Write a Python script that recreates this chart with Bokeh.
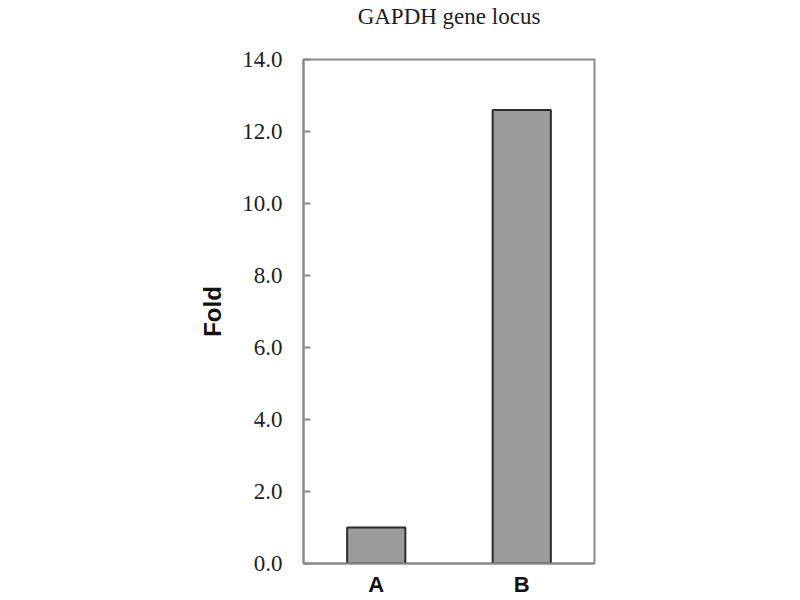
from bokeh.plotting import figure
from bokeh.models import (FixedTicker, NumeralTickFormatter, Range1d,
                          FactorRange, CategoricalAxis)
from bokeh.embed import file_html
from bokeh.resources import INLINE

# Fold enrichment at the GAPDH gene locus
categories = ["A", "B"]
fold_values = [1.0, 12.6]
y_ticks = [0, 2, 4, 6, 8, 10, 12, 14]
chart_title = "GAPDH gene locus"

axis_gray = "#8a8a8a"

p = figure(
    x_range=categories,
    y_range=Range1d(0, 14),
    width=800,
    height=600,
    output_backend="svg",
    toolbar_location=None,
    min_border_left=303,
    min_border_right=206,
    min_border_top=58,
    min_border_bottom=37,
)

# keep a handle on the category axis below the frame
bottom_axis = p.below[0]

p.vbar(x=categories, top=fold_values, width=0.4,
       fill_color="#9b9b9b", line_color="#2a2a2a", line_width=2)

p.xgrid.grid_line_color = None
p.ygrid.grid_line_color = None
p.outline_line_color = axis_gray
p.outline_line_width = 2
p.background_fill_color = "white"
p.border_fill_color = "white"

# title drawn as the label of a bare axis above the frame
p.extra_x_ranges = {"title": FactorRange(factors=["t"])}
top_axis = CategoricalAxis(x_range_name="title",
                           axis_line_color=None, major_tick_line_color=None,
                           minor_tick_line_color=None,
                           major_tick_in=0, major_tick_out=0,
                           major_label_text_font="Liberation Sans",
                           major_label_text_font_style="bold",
                           major_label_text_font_size="22px",
                           major_label_text_alpha=0,
                           major_label_standoff=8,
                           axis_label=chart_title,
                           axis_label_standoff=31,
                           axis_label_text_font="Liberation Serif",
                           axis_label_text_font_size="23px",
                           axis_label_text_font_style="normal",
                           axis_label_text_color="#1e1e1e")
p.add_layout(top_axis, "above")

# y axis
ya = p.yaxis[0]
ya.ticker = FixedTicker(ticks=y_ticks)
ya.formatter = NumeralTickFormatter(format="0.0")
ya.axis_line_color = axis_gray
ya.axis_line_width = 2
ya.major_tick_line_color = axis_gray
ya.major_tick_line_width = 2
ya.major_tick_in = 7
ya.major_tick_out = 0
ya.minor_tick_line_color = None
ya.major_label_standoff = 21
ya.major_label_text_font = "Liberation Serif"
ya.major_label_text_font_size = "23px"
ya.major_label_text_color = "#1e1e1e"
ya.axis_label = "Fold"
ya.axis_label_text_font = "Liberation Sans"
ya.axis_label_text_font_style = "bold"
ya.axis_label_text_font_size = "24px"
ya.axis_label_text_color = "#111111"
ya.axis_label_standoff = 13

# x axis (categories)
xa = bottom_axis
xa.axis_line_color = axis_gray
xa.axis_line_width = 2
xa.major_tick_line_color = None
xa.major_tick_in = 0
xa.major_tick_out = 0
xa.minor_tick_line_color = None
xa.major_label_standoff = 8
xa.major_label_text_font = "Liberation Sans"
xa.major_label_text_font_style = "bold"
xa.major_label_text_font_size = "22px"
xa.major_label_text_color = "#111111"

open("out.html", "w").write(file_html(p, INLINE))
